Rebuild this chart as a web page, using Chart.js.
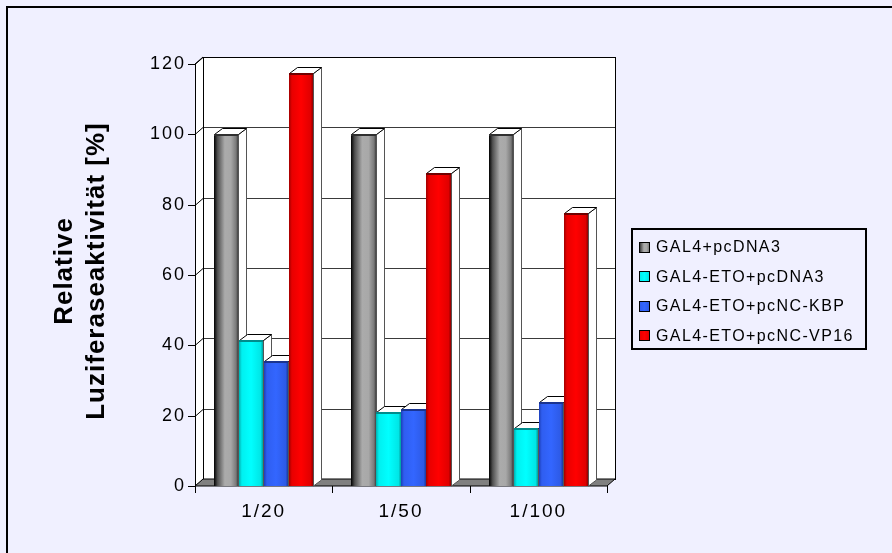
<!DOCTYPE html>
<html>
<head>
<meta charset="utf-8">
<script src="https://cdn.jsdelivr.net/npm/chart.js@4.4.0/dist/chart.umd.min.js"></script>
<style>
  html, body { margin: 0; padding: 0; background: #F0F0FF; }
  canvas { display: block; }
</style>
</head>
<body>
<canvas id="myChart" width="892" height="553"></canvas>
<script>
const dilutions = ['1/20', '1/50', '1/100'];
const seriesNames = ['GAL4+pcDNA3', 'GAL4-ETO+pcDNA3', 'GAL4-ETO+pcNC-KBP', 'GAL4-ETO+pcNC-VP16'];
const gal4Pcdna = [100, 100, 100];
const etoPcdna = [41.5, 21, 16.5];
const etoKbp = [35.5, 22, 24];
const etoVp16 = [117.5, 89, 77.5];
const yTicks = [0, 20, 40, 60, 80, 100, 120];
const axisTitle = ['Relative', 'Luziferaseaktivität [%]'];

// shading of each series (left edge -> right edge)
const shades = [
    [[0, '#000000'], [0.15, '#505050'], [0.45, '#ababab'], [0.7, '#a8a8a8'], [0.92, '#7a7a7a'], [1, '#404040']],
    [[0, '#00b0b0'], [0.12, '#00f0f0'], [0.5, '#00ffff'], [0.9, '#00e6e6'], [1, '#009c9c']],
    [[0, '#1d3fb8'], [0.12, '#2f5ef0'], [0.5, '#3366ff'], [0.9, '#2d5ae6'], [1, '#1a3a9c']],
    [[0, '#a00000'], [0.12, '#e80000'], [0.5, '#ff0000'], [0.9, '#e00000'], [1, '#900000']]
];
const topLines = ['#303030', '#008c8c', '#1a3490', '#700000'];

const DX = 8, DY = 7;     // depth of walls
const BX = 8, BY = 6;     // depth of bars

function shadeFill(ctx, i, x0, x1) {
    const g = ctx.createLinearGradient(x0, 0, x1, 0);
    shades[i].forEach(s => g.addColorStop(s[0], s[1]));
    return g;
}

const backdrop = {
    id: 'backdrop',
    beforeDraw(chart) {
        const ctx = chart.ctx;
        ctx.save();
        ctx.fillStyle = '#F0F0FF';
        ctx.fillRect(0, 0, chart.width, chart.height);
        ctx.fillStyle = '#000';
        ctx.fillRect(6, 6, chart.width, 2);
        ctx.fillRect(6, 6, 2, chart.height);
        ctx.restore();
        ctx.letterSpacing = '2px';
    }
};

const walls = {
    id: 'walls',
    beforeDatasetsDraw(chart) {
        const ctx = chart.ctx;
        const a = chart.chartArea;
        const y = chart.scales.y, x = chart.scales.x;
        ctx.save();
        ctx.lineWidth = 1;
        // back wall
        ctx.fillStyle = '#ffffff';
        ctx.fillRect(a.left + DX, a.top - DY, a.right - a.left, a.bottom - a.top);
        // left wall
        ctx.beginPath();
        ctx.moveTo(a.left, a.top);
        ctx.lineTo(a.left + DX, a.top - DY);
        ctx.lineTo(a.left + DX, a.bottom - DY);
        ctx.lineTo(a.left, a.bottom);
        ctx.closePath();
        ctx.fill();
        // grid lines on the back wall, ticks on the front
        yTicks.forEach(v => {
            const py = Math.round(y.getPixelForValue(v)) + 0.5;
            ctx.strokeStyle = '#3a3a3a';
            ctx.beginPath();
            ctx.moveTo(a.left + DX, py - DY);
            ctx.lineTo(a.right + DX, py - DY);
            ctx.stroke();
            ctx.strokeStyle = '#000';
            ctx.beginPath();
            ctx.moveTo(a.left - 7, py);
            ctx.lineTo(a.left, py);
            ctx.lineTo(a.left + DX, py - DY);
            ctx.stroke();
        });
        ctx.strokeStyle = '#000';
        ctx.strokeRect(a.left + DX + 0.5, a.top - DY + 0.5, a.right - a.left, a.bottom - a.top);
        ctx.beginPath();
        ctx.moveTo(a.left + 0.5, a.top);
        ctx.lineTo(a.left + 0.5, a.bottom);
        ctx.moveTo(a.left, a.top);
        ctx.lineTo(a.left + DX, a.top - DY);
        ctx.stroke();
        // floor
        ctx.fillStyle = '#808080';
        ctx.beginPath();
        ctx.moveTo(a.left, a.bottom);
        ctx.lineTo(a.right, a.bottom);
        ctx.lineTo(a.right + DX, a.bottom - DY);
        ctx.lineTo(a.left + DX, a.bottom - DY);
        ctx.closePath();
        ctx.fill();
        ctx.stroke();
        // category ticks
        for (let i = 0; i <= dilutions.length; i++) {
            const px = Math.round(x.getPixelForValue(i - 0.5)) + 0.5;
            ctx.beginPath();
            ctx.moveTo(px, a.bottom);
            ctx.lineTo(px, a.bottom + 7);
            ctx.stroke();
        }
        ctx.restore();
    }
};

const bars3d = {
    id: 'bars3d',
    afterDatasetsDraw(chart) {
        const ctx = chart.ctx;
        ctx.save();
        ctx.lineWidth = 1;
        dilutions.forEach((c, j) => {
            chart.data.datasets.forEach((ds, i) => {
                const el = chart.getDatasetMeta(i).data[j];
                const p = el.getProps(['x', 'y', 'base', 'width'], true);
                const x0 = Math.round(p.x - p.width / 2), x1 = Math.round(p.x + p.width / 2);
                const top = Math.round(p.y), base = Math.round(p.base);
                // side face
                ctx.fillStyle = '#ffffff';
                ctx.strokeStyle = '#555';
                ctx.beginPath();
                ctx.moveTo(x1 + 0.5, top + 0.5);
                ctx.lineTo(x1 + BX + 0.5, top - BY + 0.5);
                ctx.lineTo(x1 + BX + 0.5, base - BY);
                ctx.lineTo(x1 + 0.5, base);
                ctx.closePath();
                ctx.fill();
                ctx.stroke();
                // top face
                ctx.strokeStyle = '#000';
                ctx.beginPath();
                ctx.moveTo(x0 + 0.5, top + 0.5);
                ctx.lineTo(x1 + 0.5, top + 0.5);
                ctx.lineTo(x1 + BX + 0.5, top - BY + 0.5);
                ctx.lineTo(x0 + BX + 0.5, top - BY + 0.5);
                ctx.closePath();
                ctx.fill();
                ctx.stroke();
                // front face
                ctx.fillStyle = shadeFill(ctx, i, x0, x1);
                ctx.fillRect(x0, top, x1 - x0, base - top);
                ctx.fillStyle = topLines[i];
                ctx.fillRect(x0, top, x1 - x0, 2);
            });
        });
        ctx.restore();
    }
};

const decorations = {
    id: 'decorations',
    afterDraw(chart) {
        const ctx = chart.ctx;
        const a = chart.chartArea;
        ctx.save();
        // y axis title
        ctx.fillStyle = '#000';
        ctx.font = 'bold 26px Arial, "Liberation Sans", sans-serif';
        ctx.letterSpacing = '1px';
        ctx.textAlign = 'center';
        ctx.textBaseline = 'alphabetic';
        ctx.translate(0, (a.top + a.bottom) / 2 - 4);
        ctx.rotate(-Math.PI / 2);
        ctx.fillText(axisTitle[0], 0, 72);
        ctx.fillText(axisTitle[1], 0, 104);
        ctx.restore();

        // legend
        ctx.save();
        ctx.lineWidth = 2;
        ctx.strokeStyle = '#000';
        ctx.strokeRect(632, 229, 234, 120);
        ctx.font = '16px Arial, "Liberation Sans", sans-serif';
        ctx.letterSpacing = '1.4px';
        ctx.textBaseline = 'middle';
        ctx.textAlign = 'left';
        seriesNames.forEach((name, i) => {
            const cy = 247 + i * 29.4;
            ctx.fillStyle = shadeFill(ctx, i, 639, 650);
            ctx.fillRect(639, Math.round(cy) - 5, 11, 11);
            ctx.lineWidth = 1;
            ctx.strokeStyle = '#000';
            ctx.strokeRect(639.5, Math.round(cy) - 4.5, 10, 10);
            ctx.fillStyle = '#000';
            ctx.fillText(name, 656, cy + 1);
        });
        ctx.restore();
    }
};

const ctx = document.getElementById('myChart').getContext('2d');
const myChart = new Chart(ctx, {
    type: 'bar',
    data: {
        labels: dilutions,
        datasets: [
            { label: seriesNames[0], data: gal4Pcdna },
            { label: seriesNames[1], data: etoPcdna },
            { label: seriesNames[2], data: etoKbp },
            { label: seriesNames[3], data: etoVp16 }
        ].map(d => Object.assign(d, {
            backgroundColor: 'rgba(0,0,0,0)',
            borderWidth: 0,
            categoryPercentage: 0.73,
            barPercentage: 0.97
        }))
    },
    options: {
        responsive: false,
        devicePixelRatio: 1,
        animation: false,
        layout: { padding: { left: 135, right: 285, top: 64, bottom: 27 } },
        plugins: {
            legend: { display: false },
            tooltip: { enabled: false }
        },
        scales: {
            x: {
                grid: { display: false, drawTicks: false },
                border: { display: false },
                ticks: {
                    color: '#000',
                    padding: 14,
                    font: { family: 'Arial, "Liberation Sans", sans-serif', size: 19 }
                },
                afterFit(scale) { scale.height = 40; }
            },
            y: {
                min: 0,
                max: 120,
                grid: { display: false, drawTicks: false },
                border: { display: false },
                afterBuildTicks(scale) { scale.ticks = yTicks.map(v => ({ value: v })); },
                ticks: {
                    color: '#000',
                    padding: 9,
                    font: { family: 'Arial, "Liberation Sans", sans-serif', size: 18 }
                },
                afterFit(scale) { scale.width = 60; }
            }
        }
    },
    plugins: [backdrop, walls, bars3d, decorations]
});
</script>
</body>
</html>
